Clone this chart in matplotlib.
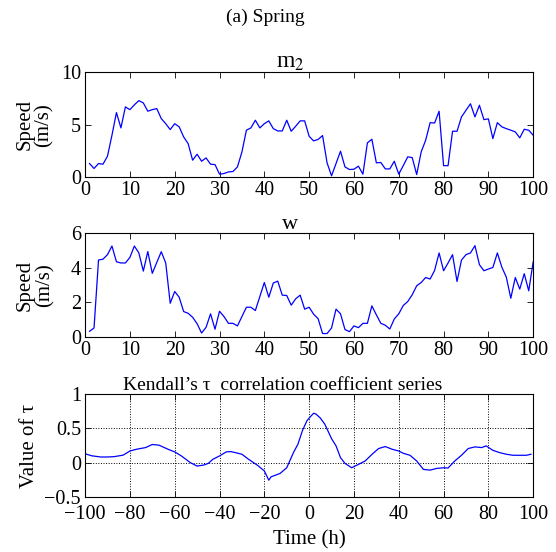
import numpy as np
import matplotlib
matplotlib.use('Agg')
from matplotlib import pyplot as plt

plt.rcParams['font.family'] = ['Liberation Serif', 'DejaVu Serif']
plt.rcParams['mathtext.fontset'] = 'stix'

hours = np.arange(1, 101)

m2_speed = [1.3, 0.83, 1.3, 1.24, 2.0, 4.0, 6.16, 4.7, 6.7, 6.44,
            6.9, 7.3, 7.08, 6.29, 6.44, 6.54, 5.59, 5.1, 4.54, 5.1,
            4.8, 3.84, 3.2, 1.62, 2.19, 1.52, 1.84, 1.24, 1.2, 0.29,
            0.35, 0.5, 0.54, 0.98, 2.4, 4.48, 4.7, 5.43, 4.7, 5.1,
            5.37, 4.63, 4.41, 4.41, 5.43, 4.38, 4.86, 5.37, 5.37, 3.9,
            3.46, 3.6, 3.97, 1.37, 0.13, 1.3, 2.48, 0.98, 0.73, 0.76,
            1.05, 0.29, 3.27, 3.62, 1.37, 1.4, 0.79, 0.79, 1.52, 0.29,
            1.1, 1.94, 1.87, 0.25, 2.41, 3.52, 5.2, 5.17, 6.29, 1.1,
            1.1, 4.38, 4.38, 5.75, 6.38, 7.0, 5.75, 6.86, 5.49, 5.56,
            3.68, 5.2, 4.8, 4.63, 4.48, 4.32, 3.75, 4.57, 4.48, 4.0]

w_speed = [0.33, 0.52, 4.45, 4.5, 4.76, 5.26, 4.35, 4.28, 4.28, 4.6,
           5.26, 4.86, 3.81, 4.94, 3.68, 4.31, 4.93, 4.28, 1.95, 2.63,
           2.3, 1.47, 1.37, 1.14, 0.77, 0.23, 0.56, 1.34, 0.45, 1.49,
           1.18, 0.79, 0.79, 0.64, 1.18, 1.72, 1.72, 1.53, 2.34, 3.15,
           2.3, 3.12, 3.23, 2.42, 2.4, 1.84, 2.21, 2.42, 1.61, 1.72,
           1.32, 1.06, 0.2, 0.2, 0.52, 1.61, 1.34, 0.43, 0.31, 0.64,
           0.54, 0.79, 0.79, 1.8, 1.28, 0.79, 0.68, 0.46, 1.04, 1.34,
           1.82, 2.05, 2.44, 2.96, 3.15, 3.44, 3.35, 3.85, 4.86, 3.83,
           4.28, 4.76, 3.21, 4.45, 4.76, 4.86, 5.28, 4.18, 3.83, 3.93,
           4.02, 4.86, 4.04, 3.46, 2.24, 3.44, 2.77, 3.66, 2.67, 4.35]

lags = [-100, -97, -93, -90, -87, -83, -80, -77, -73, -70, -67, -63, -60,
        -57, -53, -50, -47, -45, -43, -40, -37, -35, -33, -30, -27, -23,
        -20, -18, -17, -13, -10, -7, -5, -3, -1, 0, 2, 3, 5, 7, 10, 12,
        14, 16, 19, 22, 25, 28, 31, 34, 37, 40, 42, 45, 48, 51, 54, 57,
        60, 62, 65, 68, 71, 74, 77, 79, 82, 85, 88, 91, 94, 97, 99]
tau = [0.13, 0.10, 0.083, 0.083, 0.088, 0.11, 0.17, 0.196, 0.22, 0.265,
       0.255, 0.196, 0.157, 0.098, 0.0, -0.049, -0.034, -0.01, 0.049, 0.098,
       0.157, 0.162, 0.147, 0.123, 0.049, -0.039, -0.12, -0.255, -0.206,
       -0.157, -0.074, 0.147, 0.27, 0.466, 0.61, 0.65, 0.72, 0.71, 0.65,
       0.56, 0.35, 0.245, 0.073, -0.01, -0.074, -0.025, 0.025, 0.12, 0.206,
       0.235, 0.196, 0.17, 0.137, 0.108, 0.025, -0.098, -0.108, -0.083,
       -0.074, -0.078, 0.025, 0.108, 0.206, 0.23, 0.22, 0.245, 0.18, 0.147,
       0.123, 0.108, 0.108, 0.108, 0.123]

fig = plt.figure(figsize=(5.56, 5.52), dpi=100)
ax1 = fig.add_axes([0.153, 0.679, 0.806, 0.190])
ax2 = fig.add_axes([0.153, 0.3895, 0.806, 0.188])
ax3 = fig.add_axes([0.153, 0.0996, 0.806, 0.1866])

fig.text(0.478, 0.969, '(a) Spring', ha='center', va='center', fontsize=14)

ax1.plot(hours, m2_speed, color='#0000ff', lw=0.9)
ax1.set_xlim(0, 100)
ax1.set_ylim(0, 10)
ax1.set_xticks(range(0, 101, 10))
ax1.set_yticks([0, 5, 10])
ax1.set_title('m$_2$', fontsize=17, pad=3, x=0.458)
ax1.set_ylabel('Speed\n(m/s)', fontsize=15, labelpad=5, linespacing=1.0)

ax2.plot(hours, w_speed, color='#0000ff', lw=0.9)
ax2.set_xlim(0, 100)
ax2.set_ylim(0, 6)
ax2.set_xticks(range(0, 101, 10))
ax2.set_yticks([0, 2, 4, 6])
ax2.set_title('w', fontsize=16, pad=3, x=0.458)
ax2.set_ylabel('Speed\n(m/s)', fontsize=15, labelpad=12, linespacing=1.0)

ax3.plot(lags, tau, color='#0000ff', lw=0.9)
ax3.set_xlim(-100, 100)
ax3.set_ylim(-0.5, 1)
ax3.set_xticks(range(-100, 101, 20))
ax3.set_yticks([-0.5, 0, 0.5, 1])
ax3.set_yticklabels(['\u22120.5', '0', '0.5', '1'])
ax3.grid(True, color='black', linestyle=':', linewidth=0.7)
ax3.set_title('Kendall\u2019s \u03c4  correlation coefficient series', fontsize=14, pad=3, x=0.44)
ax3.set_ylabel('Value of \u03c4', fontsize=15, labelpad=4)
ax3.set_xlabel('Time (h)', fontsize=15, labelpad=4)

for ax in (ax1, ax2, ax3):
    ax.tick_params(direction='in', top=True, right=True, labelsize=14.5,
                   length=4, width=0.6, pad=3)
    for s in ax.spines.values():
        s.set_linewidth(0.8)
ax3.tick_params(axis='x', pad=6)

fig.savefig('out.png', dpi=100)
